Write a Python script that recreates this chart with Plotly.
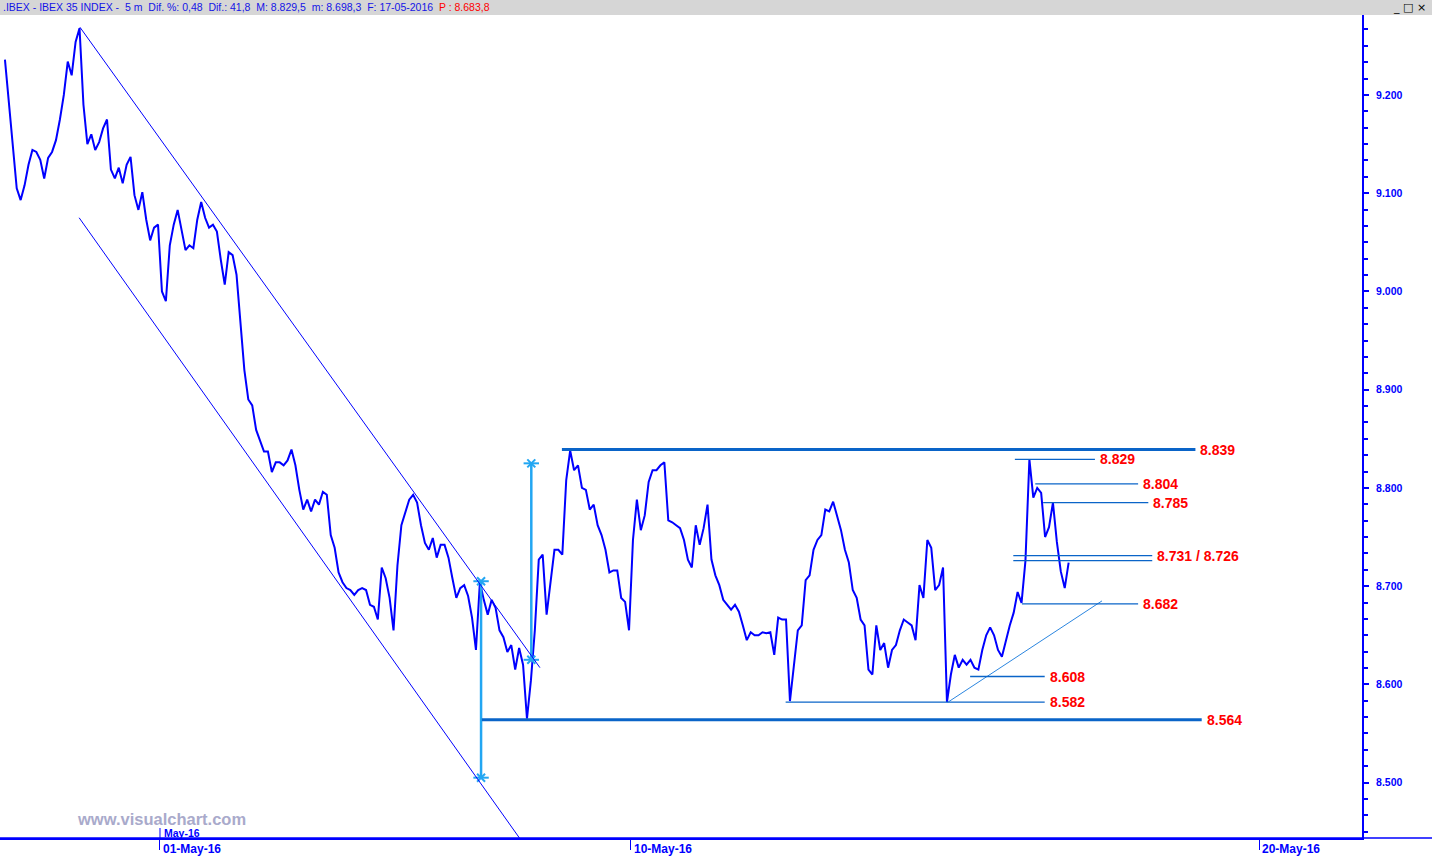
import plotly.graph_objects as go

# IBEX 35, 5 m closes, 20 samples per trading session
# (the session index counts trading days from 02-May-2016; May 17 is partial)
apr28 = [9236, 9190, 9149, 9105, 9093, 9108, 9129, 9144, 9142, 9134,
         9115, 9136, 9142, 9154, 9175, 9200, 9234, 9220, 9254, 9268]
apr29 = [9190, 9150, 9160, 9144, 9152, 9166, 9175, 9124, 9115, 9126,
         9110, 9129, 9137, 9098, 9083, 9101, 9073, 9052, 9065, 9068]
may02 = [9000, 8990, 9047, 9068, 9083, 9063, 9042, 9047, 9044, 9073,
         9091, 9075, 9065, 9068, 9061, 9032, 9007, 9040, 9037, 9017]
may03 = [8966, 8920, 8890, 8884, 8859, 8849, 8837, 8837, 8816, 8826,
         8826, 8823, 8828, 8839, 8823, 8798, 8778, 8788, 8776, 8788]
may04 = [8783, 8796, 8793, 8752, 8739, 8714, 8704, 8698, 8696, 8691,
         8696, 8698, 8696, 8681, 8679, 8666, 8719, 8708, 8688, 8655]
may05 = [8721, 8762, 8775, 8788, 8793, 8785, 8762, 8744, 8737, 8749,
         8729, 8742, 8742, 8729, 8708, 8688, 8698, 8701, 8690, 8668]
may06 = [8635, 8704, 8686, 8671, 8686, 8678, 8655, 8648, 8633, 8640,
         8615, 8637, 8620, 8565, 8604, 8655, 8727, 8732, 8671, 8706]
may09 = [8737, 8737, 8732, 8808, 8838, 8818, 8823, 8800, 8798, 8778,
         8783, 8762, 8752, 8737, 8714, 8716, 8716, 8688, 8684, 8655]
may10 = [8747, 8788, 8757, 8772, 8806, 8818, 8818, 8823, 8826, 8767,
         8765, 8762, 8759, 8747, 8727, 8719, 8762, 8742, 8759, 8783]
may11 = [8727, 8711, 8701, 8686, 8681, 8676, 8681, 8674, 8660, 8645,
         8653, 8650, 8650, 8653, 8652, 8653, 8630, 8668, 8666, 8666]
may12 = [8583, 8620, 8655, 8660, 8706, 8711, 8737, 8747, 8752, 8778,
         8776, 8786, 8770, 8757, 8737, 8724, 8696, 8688, 8666, 8660]
may13 = [8615, 8610, 8660, 8635, 8642, 8617, 8635, 8640, 8655, 8666,
         8663, 8660, 8645, 8701, 8688, 8747, 8739, 8696, 8701, 8719]
may16 = [8582, 8610, 8630, 8617, 8625, 8620, 8625, 8617, 8615, 8635,
         8650, 8658, 8650, 8635, 8628, 8645, 8660, 8673, 8694, 8683]
may17 = [8726, 8829, 8790, 8800, 8795, 8750, 8760, 8785, 8745, 8715,
         8698, 8724]

sessions = [(-2, apr28), (-1, apr29), (0, may02), (1, may03), (2, may04),
            (3, may05), (4, may06), (5, may09), (6, may10), (7, may11),
            (8, may12), (9, may13), (10, may16), (11, may17)]
SAMPLES = 20

x_ticks = [0, 6, 14]
x_labels = ["01-May-16", "10-May-16", "20-May-16"]
y_ticks = [8500, 8600, 8700, 8800, 8900, 9000, 9100, 9200]

# support / resistance levels drawn on the chart
levels = [8839, 8829, 8804, 8785, 8731, 8726, 8682, 8608, 8582, 8564]
level_from = [5.12, 10.89, 11.15, 11.25, 10.87, 10.87, 10.98, 10.32, 7.97, 4.10]
level_to = [13.19, 11.91, 12.46, 12.59, 12.64, 12.64, 12.46, 11.27, 11.27, 13.27]

header = (".IBEX - IBEX 35 INDEX -  5 m  Dif. %: 0,48  Dif.: 41,8  "
          "M: 8.829,5  m: 8.698,3  F: 17-05-2016  ")
last_price = "P : 8.683,8"

BLUE = "#0000ff"
LEVEL = "#0a64c8"
PROJ = "#22a6f2"
RED = "#ff0000"
FONT = "Liberation Sans, Arial, sans-serif"


def fmt(v):
    return f"{v / 1000:.3f}"


xs, ys = [], []
for idx, vals in sessions:
    for k, v in enumerate(vals):
        xs.append(idx + (k + 0.5) / SAMPLES)
        ys.append(v)

fig = go.Figure()
fig.add_trace(go.Scatter(x=xs, y=ys, mode="lines",
                         line=dict(color=BLUE, width=2), hoverinfo="skip"))

# falling channel
fig.add_shape(type="line", x0=-1.02, y0=9269, x1=4.84, y1=8617,
              line=dict(color=BLUE, width=1))
fig.add_shape(type="line", x0=-1.03, y0=9075, x1=4.70, y1=8430,
              line=dict(color=BLUE, width=1))

# measured-move projections
for px, a, b in [(4.09, 8705, 8505), (4.73, 8625, 8825)]:
    fig.add_trace(go.Scatter(x=[px, px], y=[a, b], mode="lines+markers",
                             line=dict(color=PROJ, width=2.5),
                             marker=dict(symbol="x-thin-open", size=8,
                                         color=PROJ,
                                         line=dict(color=PROJ, width=2)),
                             hoverinfo="skip"))
    fig.add_trace(go.Scatter(x=[px, px], y=[a, b], mode="markers",
                             marker=dict(symbol="line-ew-open", size=11,
                                         color=PROJ,
                                         line=dict(color=PROJ, width=2)),
                             hoverinfo="skip"))

# rising trend line of May 16
fig.add_shape(type="line", x0=10.04, y0=8582, x1=12.00, y1=8685,
              line=dict(color="#2b86e0", width=1))

for v, a, b in zip(levels, level_from, level_to):
    thick = v in (8839, 8564)
    fig.add_shape(type="line", x0=a, y0=v, x1=b, y1=v,
                  line=dict(color=LEVEL, width=3 if thick else 1.3))
    if v == 8726:
        continue
    text = fmt(v) if v != 8731 else f"{fmt(8731)} / {fmt(8726)}"
    fig.add_annotation(x=b, y=v, text=f"<b>{text}</b>", showarrow=False,
                       xanchor="left", yanchor="middle", xshift=3,
                       font=dict(family=FONT, size=14, color=RED))

# title bar
fig.add_shape(type="rect", xref="paper", yref="paper", x0=0, x1=1432 / 1362,
              y0=1, y1=1 + 15 / 823, fillcolor="#d6d6d6", line_width=0,
              layer="below")
fig.add_annotation(xref="paper", yref="paper", x=0, y=1 + 7.5 / 823,
                   xanchor="left", yanchor="middle", xshift=1, showarrow=False,
                   text=f"{header}<span style='color:#ff0000'>{last_price}</span>",
                   font=dict(family=FONT, size=10.5, color="#1414e6"))
fig.add_annotation(xref="paper", yref="paper", x=1409 / 1362, y=1 + 7.5 / 823,
                   xanchor="center", yanchor="middle", showarrow=False,
                   text="_ □ ×", font=dict(family="DejaVu Sans", size=11,
                                             color="black"))

# bottom line across the whole window and the month marker
fig.add_shape(type="line", xref="paper", yref="paper", x0=0, x1=1432 / 1362,
              y0=0, y1=0, line=dict(color=BLUE, width=1.5))
fig.add_shape(type="line", xref="x", yref="paper", x0=0, x1=0,
              y0=0, y1=10 / 823, line=dict(color=BLUE, width=1))
fig.add_annotation(x=0, xref="x", yref="paper", y=0, xanchor="left",
                   yanchor="bottom", xshift=2, yshift=-3, showarrow=False,
                   text="<b>May-16</b>",
                   font=dict(family=FONT, size=10.5, color=BLUE))
for tv, tl in zip(x_ticks, x_labels):
    fig.add_annotation(x=tv, xref="x", yref="paper", y=0, xanchor="left",
                       yanchor="top", xshift=1, yshift=-2, showarrow=False,
                       text=f"<b>{tl}</b>",
                       font=dict(family=FONT, size=12, color=BLUE))

fig.add_annotation(xref="paper", yref="paper", x=75 / 1362, y=19 / 823,
                   xanchor="left", yanchor="middle", showarrow=False,
                   text="<b>www.visualchart.com</b>",
                   font=dict(family=FONT, size=16.5, color="#a9aacb"))

fig.update_layout(
    width=1432, height=857,
    margin=dict(l=0, r=70, t=15, b=19),
    paper_bgcolor="white", plot_bgcolor="white",
    showlegend=False,
    xaxis=dict(range=[-2.038, 15.312], showgrid=False, zeroline=False,
               showline=True, linecolor=BLUE, linewidth=1.5,
               tickvals=x_ticks, showticklabels=False, ticks="outside",
               ticklen=10, tickcolor=BLUE, tickwidth=1),
    yaxis=dict(range=[8443.6, 9281.4], side="right", showgrid=False,
               zeroline=False, showline=True, linecolor=BLUE, linewidth=2,
               tickvals=y_ticks, ticktext=[f"<b>{fmt(v)}</b>" for v in y_ticks],
               ticks="outside", ticklen=5, tickcolor=BLUE, tickwidth=1.5,
               ticklabelstandoff=5,
               tickfont=dict(family=FONT, size=10.5, color=BLUE),
               minor=dict(tick0=8500, dtick=100 / 6, ticks="outside",
                          ticklen=4, tickcolor=BLUE, tickwidth=1.5)),
)

# the page is exactly the size of the figure, so drop the default body margin
fig.write_html("out.html", config={"displayModeBar": False},
               post_script="document.body.style.margin='0';"
                           "document.body.style.overflow='hidden';")
